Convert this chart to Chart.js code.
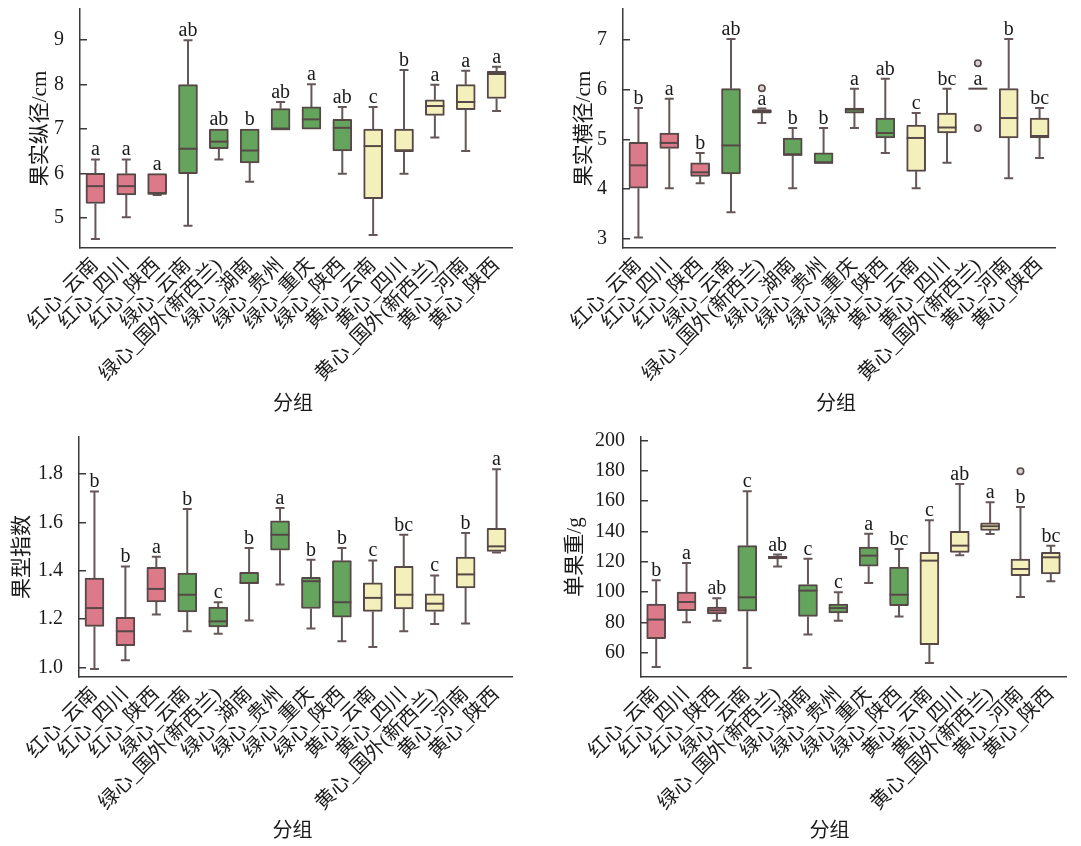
<!DOCTYPE html>
<html>
<head>
<meta charset="utf-8">
<script src="https://cdn.jsdelivr.net/npm/chart.js@4.4.1/dist/chart.umd.min.js"></script>
<style>
  body { margin: 0; background: #fff; width: 1081px; height: 846px; overflow: hidden; position: relative; }
  .panel { position: absolute; }
</style>
</head>
<body>
<div class="panel" style="left:0;top:0"><canvas id="lenChart" width="540" height="421"></canvas></div>
<div class="panel" style="left:540px;top:0"><canvas id="widChart" width="541" height="421"></canvas></div>
<div class="panel" style="left:0;top:428px"><canvas id="idxChart" width="540" height="420"></canvas></div>
<div class="panel" style="left:540px;top:428px"><canvas id="wtChart" width="541" height="420"></canvas></div>
<script>
// --- categories (shared by all four panels) ---
const groups = ['红心_云南', '红心_四川', '红心_陕西', '绿心_云南', '绿心_国外(新西兰)', '绿心_湖南',
    '绿心_贵州', '绿心_重庆', '绿心_陕西', '黄心_云南', '黄心_四川', '黄心_国外(新西兰)', '黄心_河南', '黄心_陕西'];

// --- 果实纵径/cm ---
const lenMax = [6.32, 6.32, 6.0, 9.0, 7.0, 7.0, 7.61, 8.01, 7.5, 7.5, 8.33, 8.0, 8.31, 8.4];
const lenQ3  = [6.01, 6.0, 6.0, 8.0, 7.0, 7.0, 7.46, 7.5, 7.22, 7.0, 7.0, 7.66, 8.0, 8.3];
const lenMed = [5.72, 5.72, 5.55, 6.56, 6.72, 6.52, 7.0, 7.22, 7.03, 6.62, 6.51, 7.52, 7.61, 8.24];
const lenQ1  = [5.33, 5.52, 5.55, 6.0, 6.56, 6.24, 7.0, 7.0, 6.51, 5.44, 6.51, 7.31, 7.44, 7.69];
const lenMin = [4.53, 5.02, 5.52, 4.83, 6.32, 5.82, 7.0, 7.0, 6.0, 4.62, 6.0, 6.81, 6.51, 7.41];
const lenLetters = ['a', 'a', 'a', 'ab', 'ab', 'b', 'ab', 'a', 'ab', 'c', 'b', 'a', 'a', 'a'];
const lenOutliers = [];
const lenTicks = [5, 6, 7, 8, 9];

// --- 果实横径/cm ---
const widMax = [5.63, 5.82, 4.73, 7.02, 5.62, 5.23, 5.23, 6.02, 6.22, 5.53, 6.02, 6.02, 7.02, 5.63];
const widQ3  = [4.94, 5.13, 4.53, 6.02, 5.6, 5.03, 4.73, 5.63, 5.43, 5.29, 5.53, 6.02, 6.02, 5.43];
const widMed = [4.48, 4.93, 4.34, 4.88, 5.56, 4.69, 4.53, 5.6, 5.13, 5.03, 5.24, 6.02, 5.43, 5.07];
const widQ1  = [4.02, 4.82, 4.26, 4.31, 5.53, 4.69, 4.53, 5.53, 5.03, 4.36, 5.13, 6.02, 5.03, 5.03];
const widMin = [3.03, 4.02, 4.12, 3.54, 5.33, 4.02, 4.53, 5.23, 4.73, 4.02, 4.53, 6.02, 4.22, 4.63];
const widLetters = ['b', 'a', 'b', 'ab', 'a', 'b', 'b', 'a', 'ab', 'c', 'bc', 'a', 'b', 'bc'];
const widOutliers = [{ x: '绿心_国外(新西兰)', y: 6.03 }, { x: '黄心_国外(新西兰)', y: 6.53 }, { x: '黄心_国外(新西兰)', y: 5.23 }];
const widTicks = [3, 4, 5, 6, 7];

// --- 果型指数 ---
const idxMax = [1.728, 1.418, 1.458, 1.655, 1.27, 1.494, 1.66, 1.446, 1.494, 1.443, 1.549, 1.381, 1.556, 1.82];
const idxQ3  = [1.37, 1.208, 1.414, 1.391, 1.25, 1.394, 1.607, 1.373, 1.442, 1.35, 1.418, 1.305, 1.457, 1.575];
const idxMed = [1.246, 1.15, 1.325, 1.301, 1.191, 1.35, 1.549, 1.357, 1.27, 1.288, 1.301, 1.264, 1.385, 1.501];
const idxQ1  = [1.17, 1.09, 1.271, 1.23, 1.168, 1.347, 1.485, 1.244, 1.208, 1.232, 1.242, 1.232, 1.329, 1.48];
const idxMin = [0.994, 1.03, 1.219, 1.15, 1.14, 1.195, 1.343, 1.161, 1.109, 1.085, 1.15, 1.18, 1.182, 1.476];
const idxLetters = ['b', 'b', 'a', 'b', 'c', 'b', 'a', 'b', 'b', 'c', 'bc', 'c', 'b', 'a'];
const idxOutliers = [];
const idxTicks = [1.0, 1.2, 1.4, 1.6, 1.8];

// --- 单果重/g ---
const wtMax = [107.8, 119.3, 95.9, 166.6, 124.8, 122.1, 99.9, 138.6, 128.5, 147.4, 171.4, 159.3, 156.2, 130.7];
const wtQ3  = [92.2, 100.1, 90.2, 130.7, 123.7, 105, 92.2, 129.8, 116.6, 126.3, 140.2, 145.7, 121.9, 126.3];
const wtMed = [81.9, 93.5, 88, 96.6, 123, 101, 89.5, 124.1, 98.3, 120.8, 130.7, 143.5, 115.3, 123];
const wtQ1  = [69.3, 87.8, 85.6, 87.4, 121.9, 84, 86.3, 117.1, 91.1, 65.3, 126.3, 140.8, 110.9, 112];
const wtMin = [50.6, 80.1, 81.2, 49.9, 117, 72, 81.2, 106, 84, 53.2, 124.3, 138.4, 96.8, 107.2];
const wtLetters = ['b', 'a', 'ab', 'c', 'ab', 'c', 'c', 'a', 'bc', 'c', 'ab', 'a', 'b', 'bc'];
const wtOutliers = [{ x: '黄心_河南', y: 179.8 }];
const wtTicks = [60, 80, 100, 120, 140, 160, 180, 200];

// --- styles ---
const FONT = "'Liberation Serif', 'Noto Sans CJK SC', serif";
const INK = '#1a1a1a';
const AXIS = '#3a3a3a';
const EDGE = '#574848';
const WHISKER = '#655757';
const CAP = 4.5;
const FILLS = { '红': '#dc7a89', '绿': '#64a45c', '黄': '#f4f0bc' };

// whiskers, medians, significance letters and the x title
function boxPlot(p) {
    return {
        id: 'boxPlot',
        beforeDatasetsDraw(chart) {
            const { ctx, scales: { x, y } } = chart;
            ctx.save();
            ctx.strokeStyle = WHISKER;
            ctx.lineWidth = 2;
            p.q1.forEach((q1, i) => {
                const cx = x.getPixelForValue(i);
                [[p.q3[i], p.max[i]], [q1, p.min[i]]].forEach(([from, to]) => {
                    if (from === to) return;
                    const y0 = y.getPixelForValue(from);
                    const y1 = y.getPixelForValue(to);
                    ctx.beginPath();
                    ctx.moveTo(cx, y0);
                    ctx.lineTo(cx, y1);
                    ctx.moveTo(cx - CAP, y1);
                    ctx.lineTo(cx + CAP, y1);
                    ctx.stroke();
                });
            });
            ctx.restore();
        },
        afterDatasetsDraw(chart) {
            const { ctx, scales: { y } } = chart;
            const bars = chart.getDatasetMeta(0).data;
            ctx.save();
            ctx.strokeStyle = EDGE;
            ctx.lineWidth = 2;
            p.med.forEach((m, i) => {
                const bar = bars[i];
                const ym = y.getPixelForValue(m);
                ctx.beginPath();
                ctx.moveTo(bar.x - bar.width / 2, ym);
                ctx.lineTo(bar.x + bar.width / 2, ym);
                ctx.stroke();
            });
            ctx.restore();
        },
        afterDraw(chart) {
            const { ctx, chartArea, scales: { x, y } } = chart;
            ctx.save();
            ctx.fillStyle = INK;
            ctx.textAlign = 'center';
            ctx.textBaseline = 'alphabetic';
            ctx.font = '20px ' + FONT;
            p.letters.forEach((t, i) => {
                ctx.fillText(t, x.getPixelForValue(i), y.getPixelForValue(p.max[i]) - 4);
            });
            ctx.textBaseline = 'middle';
            ctx.fillText('分组', (chartArea.left + chartArea.right) / 2 + p.xTitleShift, chart.height - 16);
            ctx.restore();
        }
    };
}

function makeChart(id, p) {
    return new Chart(document.getElementById(id), {
        type: 'bar',
        data: {
            labels: groups,
            datasets: [{
                data: p.q1.map((v, i) => [v, p.q3[i]]),
                backgroundColor: groups.map(g => FILLS[g[0]]),
                borderColor: EDGE,
                borderWidth: 2,
                borderSkipped: false,
                borderRadius: 1,
                barThickness: 19,
                grouped: false
            }, {
                type: 'scatter',
                data: p.outliers,
                pointStyle: 'circle',
                pointRadius: 3.2,
                pointBorderWidth: 1.6,
                pointBorderColor: EDGE,
                pointBackgroundColor: '#d8d2d2'
            }]
        },
        options: {
            responsive: false,
            animation: false,
            layout: { padding: { top: 9, right: p.padRight, left: 0, bottom: 0 } },
            plugins: { legend: { display: false }, tooltip: { enabled: false } },
            scales: {
                x: {
                    type: 'category',
                    offset: true,
                    grid: { display: false, drawTicks: false },
                    border: { display: true, color: AXIS, width: 1.5 },
                    ticks: {
                        autoSkip: false, minRotation: 45, maxRotation: 45, padding: 6,
                        color: INK, font: { family: FONT, size: 20 }
                    },
                    afterFit(s) {
                        s.height = p.xHeight;
                        s.paddingLeft = 0;
                        s.paddingRight = 0;
                    }
                },
                y: {
                    min: p.yMin,
                    max: p.yMax,
                    grid: {
                        display: true, drawOnChartArea: false, drawTicks: true,
                        tickLength: -7, color: AXIS, lineWidth: 1.5
                    },
                    border: { display: true, color: AXIS, width: 1.5 },
                    ticks: {
                        padding: 23, color: INK, font: { family: FONT, size: 20 },
                        callback: v => v.toFixed(p.decimals)
                    },
                    afterBuildTicks(s) { s.ticks = p.ticks.map(v => ({ value: v })); },
                    afterFit(s) {
                        s.width = p.yWidth;
                        s.paddingTop = 0;
                        s.paddingBottom = 0;
                    },
                    title: {
                        display: true, text: p.yTitle, color: INK,
                        font: { family: FONT, size: 21 },
                        padding: { top: p.yTitlePad, bottom: 0 }
                    }
                }
            }
        },
        plugins: [boxPlot(p)]
    });
}

makeChart('lenChart', {
    max: lenMax, q3: lenQ3, med: lenMed, q1: lenQ1, min: lenMin, letters: lenLetters, outliers: lenOutliers,
    ticks: lenTicks, decimals: 0, yMin: 4.33, yMax: 9.7, yTitle: '果实纵径/cm',
    yWidth: 80, padRight: 28, xHeight: 173, yTitlePad: 28, xTitleShift: -3
});
makeChart('widChart', {
    max: widMax, q3: widQ3, med: widMed, q1: widQ1, min: widMin, letters: widLetters, outliers: widOutliers,
    ticks: widTicks, decimals: 0, yMin: 2.82, yMax: 7.62, yTitle: '果实横径/cm',
    yWidth: 83, padRight: 26, xHeight: 173, yTitlePad: 32, xTitleShift: -3
});
makeChart('idxChart', {
    max: idxMax, q3: idxQ3, med: idxMed, q1: idxQ1, min: idxMin, letters: idxLetters, outliers: idxOutliers,
    ticks: idxTicks, decimals: 1, yMin: 0.961, yMax: 1.953, yTitle: '果型指数',
    yWidth: 79, padRight: 28, xHeight: 171, yTitlePad: 10, xTitleShift: -3
});
makeChart('wtChart', {
    max: wtMax, q3: wtQ3, med: wtMed, q1: wtQ1, min: wtMin, letters: wtLetters, outliers: wtOutliers,
    ticks: wtTicks, decimals: 0, yMin: 44, yMax: 202.4, yTitle: '单果重/g',
    yWidth: 101, padRight: 15, xHeight: 171, yTitlePad: 23, xTitleShift: -24
});
</script>
</body>
</html>
